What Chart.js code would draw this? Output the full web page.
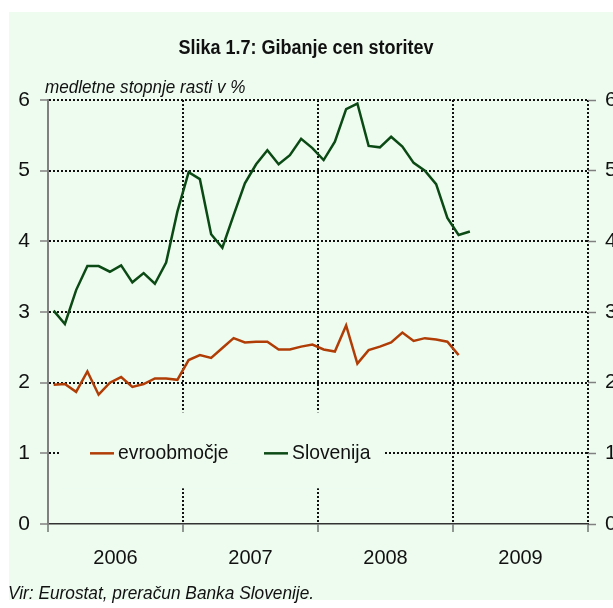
<!DOCTYPE html>
<html>
<head>
<meta charset="utf-8">
<script src="https://cdn.jsdelivr.net/npm/chart.js@4.4.1/dist/chart.umd.min.js"></script>
<style>
  html, body { margin: 0; padding: 0; background: #ffffff; overflow: hidden; }
  #wrap { position: relative; width: 613px; height: 608px; }
</style>
</head>
<body>
<div id="wrap"><canvas id="storitve"></canvas></div>
<script>
// Medletne stopnje rasti cen storitev, mesečno od januarja 2006
const years = ['2006', '2007', '2008', '2009'];
const yTicks = [0, 1, 2, 3, 4, 5, 6];

const evroobmocje = [
    1.97, 1.98, 1.87, 2.16, 1.83, 2.00, 2.08, 1.94, 1.98, 2.06, 2.06, 2.04,
    2.32, 2.39, 2.35, 2.49, 2.63, 2.57, 2.58, 2.58, 2.47, 2.47, 2.51, 2.54,
    2.47, 2.44, 2.81, 2.27, 2.46, 2.51, 2.57, 2.71, 2.59, 2.63, 2.61, 2.58,
    2.39
];
const slovenija = [
    3.02, 2.83, 3.31, 3.65, 3.65, 3.57, 3.66, 3.42, 3.55, 3.40, 3.70, 4.42,
    4.98, 4.88, 4.10, 3.91, 4.37, 4.82, 5.09, 5.29, 5.09, 5.22, 5.45, 5.32,
    5.15, 5.41, 5.87, 5.95, 5.35, 5.33, 5.48, 5.34, 5.11, 5.00, 4.81, 4.33,
    4.09, 4.14
];

const COLOR_EA = '#b13d06';
const COLOR_SI = '#0b4a14';
const PANEL_BG = '#eefcf0';
const FONT = '"Liberation Sans", Arial, sans-serif';

// monthly values placed in the middle of each month
const toPoints = arr => arr.map((v, i) => ({ x: i + 0.5, y: v }));

// text squeezed horizontally to get a narrow face
function narrowText(ctx, text, x, y, sx) {
    ctx.save();
    ctx.translate(x, y);
    ctx.scale(sx, 1);
    ctx.fillText(text, 0, 0);
    ctx.restore();
}

const panelPlugin = {
    id: 'panel',
    beforeDraw(chart) {
        const { ctx, width, height } = chart;
        ctx.save();
        ctx.fillStyle = PANEL_BG;
        ctx.fillRect(9, 12, width - 9, height - 20);
        ctx.restore();
    }
};

// inline legend box sitting over the grid at the height of 1 %
const legendPlugin = {
    id: 'inlineLegend',
    beforeDatasetsDraw(chart) {
        const { ctx, scales } = chart;
        const yMid = scales.y.getPixelForValue(1);
        ctx.save();
        ctx.fillStyle = PANEL_BG;
        ctx.fillRect(60, yMid - 41, 325, 76);
        ctx.font = '21px ' + FONT;
        ctx.textBaseline = 'middle';
        ctx.fillStyle = '#111';
        ctx.lineWidth = 2.5;
        const items = [
            { label: chart.data.datasets[0].label, color: COLOR_EA, x: 90 },
            { label: chart.data.datasets[1].label, color: COLOR_SI, x: 264 }
        ];
        items.forEach(it => {
            ctx.strokeStyle = it.color;
            ctx.beginPath();
            ctx.moveTo(it.x, yMid);
            ctx.lineTo(it.x + 24, yMid);
            ctx.stroke();
            narrowText(ctx, it.label, it.x + 28, yMid, 0.92);
        });
        ctx.restore();
    }
};

const textPlugin = {
    id: 'texts',
    afterDraw(chart) {
        const { ctx } = chart;
        ctx.save();
        ctx.fillStyle = '#111';
        ctx.textBaseline = 'middle';
        ctx.textAlign = 'center';
        ctx.font = 'bold 20px ' + FONT;
        narrowText(ctx, 'Slika 1.7: Gibanje cen storitev', 306, 48, 0.9);
        ctx.textAlign = 'left';
        ctx.font = 'italic 19px ' + FONT;
        narrowText(ctx, 'medletne stopnje rasti v %', 45, 88, 0.9);
        ctx.font = 'italic 18px ' + FONT;
        narrowText(ctx, 'Vir: Eurostat, preračun Banka Slovenije.', 8, 594, 0.96);
        ctx.restore();
    }
};

const dotted = [2, 2];

new Chart(document.getElementById('storitve'), {
    type: 'line',
    data: {
        datasets: [
            {
                label: 'evroobmočje',
                data: toPoints(evroobmocje),
                borderColor: COLOR_EA,
                borderWidth: 2.5,
                pointRadius: 0,
                tension: 0,
                yAxisID: 'y'
            },
            {
                label: 'Slovenija',
                data: toPoints(slovenija),
                borderColor: COLOR_SI,
                borderWidth: 2.5,
                pointRadius: 0,
                tension: 0,
                yAxisID: 'y'
            }
        ]
    },
    options: {
        responsive: true,
        maintainAspectRatio: false,
        animation: false,
        layout: { padding: { top: 100, left: 0, right: 0, bottom: 44 } },
        plugins: {
            legend: { display: false },
            tooltip: { enabled: false }
        },
        scales: {
            x: {
                type: 'linear',
                min: 0,
                max: years.length * 12,
                afterFit: s => { s.height = 40; },
                afterBuildTicks: s => {
                    s.ticks = [];
                    for (let v = 0; v <= years.length * 12; v += 6) s.ticks.push({ value: v });
                },
                ticks: {
                    autoSkip: false,
                    maxRotation: 0,
                    padding: 14,
                    color: '#111',
                    font: { family: FONT, size: 20 },
                    callback: v => (v % 12 === 6 ? years[(v - 6) / 12] : '')
                },
                grid: {
                    color: c => (c.tick && c.tick.value % 12 === 0 && c.tick.value > 0 ? '#111' : 'transparent'),
                    lineWidth: 2,
                    tickLength: 8,
                    tickColor: c => (c.tick && c.tick.value % 12 === 0 ? '#333' : 'transparent'),
                    tickWidth: 1
                },
                border: { display: true, color: '#333', width: 1.5, dash: dotted }
            },
            y: {
                position: 'left',
                min: 0,
                max: 6,
                afterFit: s => { s.width = 48; },
                afterBuildTicks: s => { s.ticks = yTicks.map(v => ({ value: v })); },
                ticks: {
                    padding: 10,
                    color: '#111',
                    font: { family: FONT, size: 21 }
                },
                grid: {
                    color: c => (c.tick && c.tick.value > 0 ? '#111' : 'transparent'),
                    lineWidth: 2,
                    tickLength: 8,
                    tickColor: '#808080',
                    tickWidth: 1.5
                },
                border: { display: true, color: '#808080', width: 2, dash: dotted }
            },
            y2: {
                position: 'right',
                min: 0,
                max: 6,
                afterFit: s => { s.width = 25; },
                afterBuildTicks: s => { s.ticks = yTicks.map(v => ({ value: v })); },
                ticks: {
                    padding: 9,
                    color: '#111',
                    font: { family: FONT, size: 21 }
                },
                grid: {
                    drawOnChartArea: false,
                    tickLength: 8,
                    tickColor: '#808080',
                    tickWidth: 1.5
                },
                border: { display: false }
            }
        }
    },
    plugins: [panelPlugin, legendPlugin, textPlugin]
});
</script>
</body>
</html>
